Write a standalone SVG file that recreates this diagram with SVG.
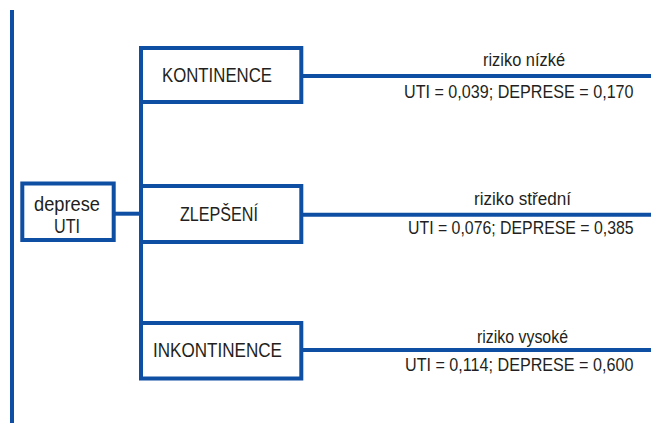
<svg xmlns="http://www.w3.org/2000/svg" width="651" height="423" viewBox="0 0 651 423">
  <style>
    .box { fill: #ffffff; stroke: #0f4fa3; stroke-width: 4; }
    .line { fill: none; stroke: #0f4fa3; stroke-width: 4; }
    .label { font-family: "Liberation Sans", Arial, sans-serif; fill: #231f20; }
    .node-text { font-size: 20px; }
    .note { font-size: 17.5px; }
  </style>
  <rect width="651" height="423" fill="#ffffff"/>

  <g id="connectors">
    <!-- left rule -->
    <line class="line" x1="12" y1="10" x2="12" y2="423"/>
    <!-- trunk joining the three outcome boxes -->
    <line class="line" x1="141" y1="102" x2="141" y2="323"/>
    <!-- source box to trunk -->
    <line class="line" x1="113.7" y1="213.7" x2="141" y2="213.7"/>
    <!-- outcome leaders -->
    <line class="line" x1="301.3" y1="76" x2="651" y2="76"/>
    <line class="line" x1="301.3" y1="214.7" x2="651" y2="214.7"/>
    <line class="line" x1="301.3" y1="350" x2="651" y2="350"/>
  </g>

  <g id="node-deprese-uti">
    <rect class="box" x="22.3" y="183.5" width="91.4" height="56.5"/>
    <text class="label node-text" x="34" y="211" textLength="66" lengthAdjust="spacingAndGlyphs">deprese</text>
    <text class="label node-text" x="54" y="233" textLength="26" lengthAdjust="spacingAndGlyphs">UTI</text>
  </g>

  <g id="node-kontinence">
    <rect class="box" x="141" y="48" width="160.3" height="54"/>
    <text class="label node-text" x="162" y="82" textLength="110" lengthAdjust="spacingAndGlyphs">KONTINENCE</text>
  </g>

  <g id="node-zlepseni">
    <rect class="box" x="141" y="186" width="160.3" height="56"/>
    <text class="label node-text" x="180" y="221" textLength="78" lengthAdjust="spacingAndGlyphs">ZLEPŠENÍ</text>
  </g>

  <g id="node-inkontinence">
    <rect class="box" x="141" y="323" width="160.3" height="55.5"/>
    <text class="label node-text" x="153" y="357" textLength="129" lengthAdjust="spacingAndGlyphs">INKONTINENCE</text>
  </g>

  <!-- value lines are set in a horizontally condensed face -->
  <g id="labels-kontinence">
    <text class="label note" x="483" y="66" textLength="82" lengthAdjust="spacingAndGlyphs">riziko nízké</text>
    <text class="label note" transform="translate(404,98) scale(0.922,1)">UTI = 0,039; DEPRESE = 0,170</text>
  </g>

  <g id="labels-zlepseni">
    <text class="label note" x="474" y="205" textLength="97" lengthAdjust="spacingAndGlyphs">riziko střední</text>
    <text class="label note" transform="translate(408,234) scale(0.907,1)">UTI = 0,076; DEPRESE = 0,385</text>
  </g>

  <g id="labels-inkontinence">
    <text class="label note" x="477" y="343" textLength="91" lengthAdjust="spacingAndGlyphs">riziko vysoké</text>
    <text class="label note" transform="translate(405,371) scale(0.922,1)">UTI = 0,114; DEPRESE = 0,600</text>
  </g>
</svg>
